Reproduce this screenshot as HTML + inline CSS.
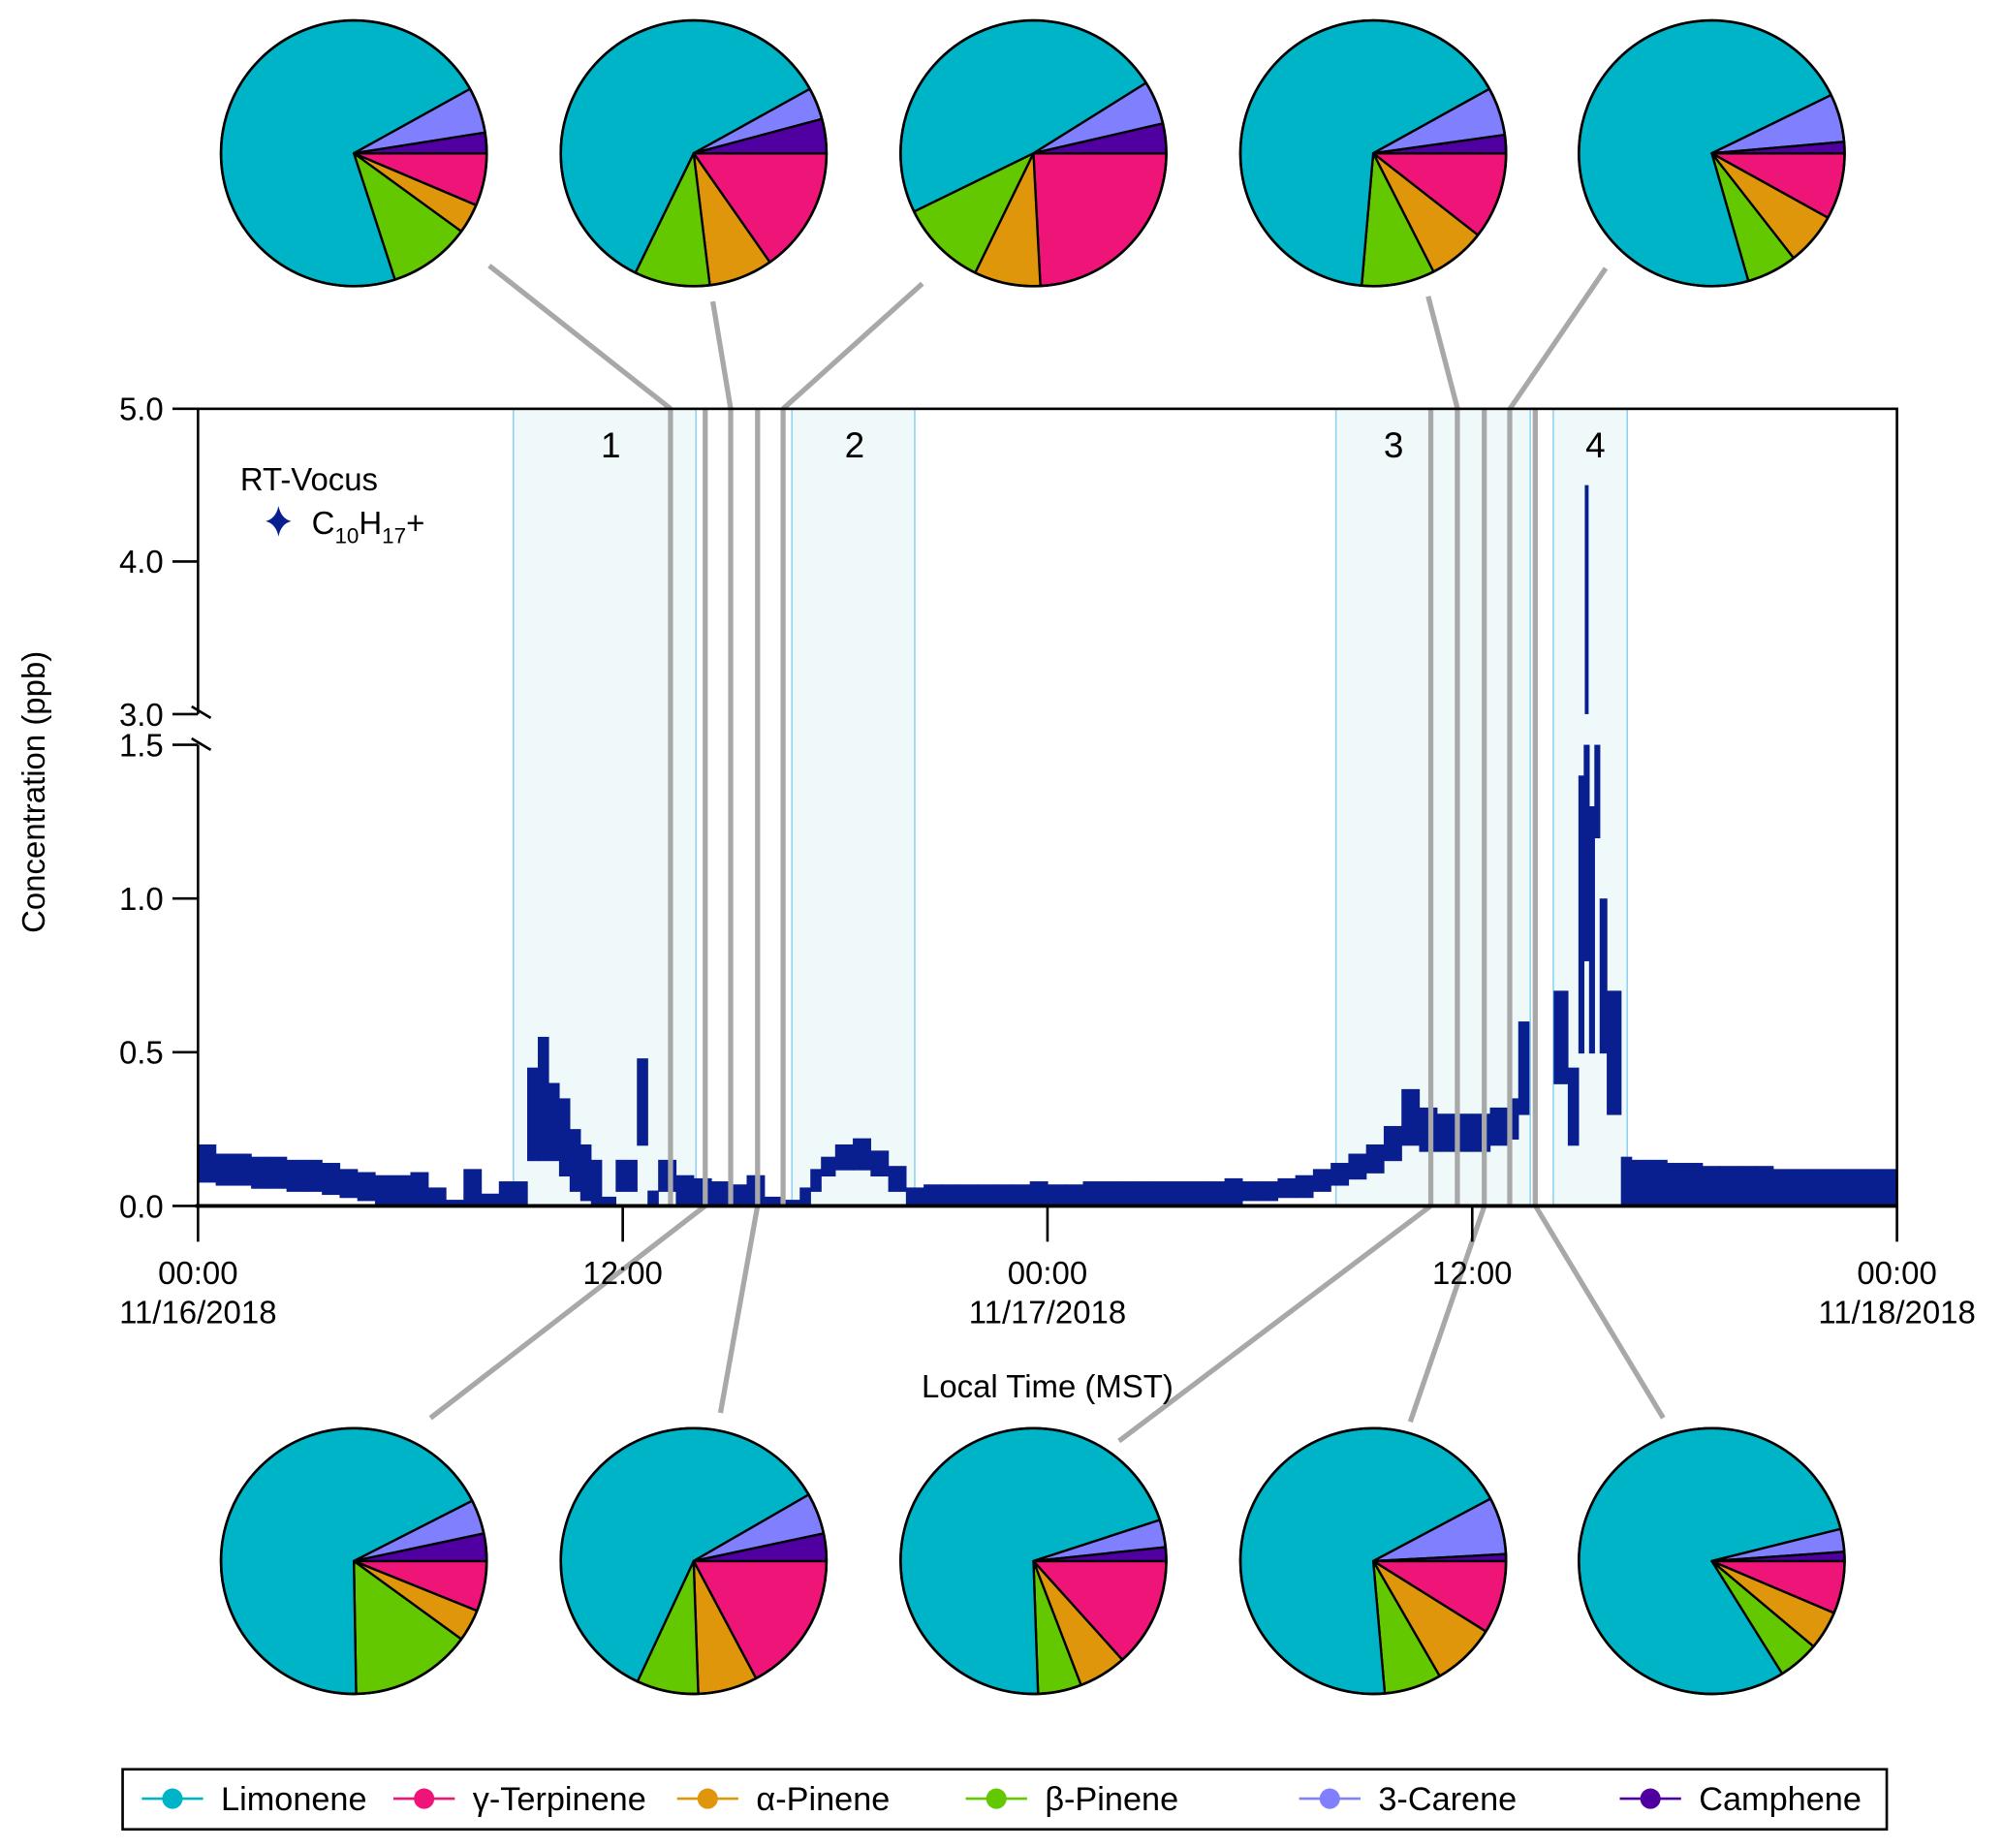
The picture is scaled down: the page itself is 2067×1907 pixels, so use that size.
<!DOCTYPE html>
<html><head><meta charset="utf-8"><style>
html,body{margin:0;padding:0;background:#fff}
svg{display:block;font-family:"Liberation Sans",sans-serif}
</style></head><body>
<svg id="chart" width="2067" height="1907" viewBox="0 0 1568 1446.6" xmlns="http://www.w3.org/2000/svg">
<g id="shade"></g>
<g id="scatter"></g>
<g id="gray"></g>
<g id="axes"></g>
<g id="pies"></g>
<g>
<text x="188" y="384" font-size="25">RT-Vocus</text>
<path d="M218 396 Q220 406 228 408 Q220 410 218 420 Q216 410 208 408 Q216 406 218 396Z" fill="#0a1f8f"/>
<text x="244" y="418" font-size="25">C<tspan font-size="17" dy="7">10</tspan><tspan dy="-7">H</tspan><tspan font-size="17" dy="7">17</tspan><tspan dy="-7">+</tspan></text>
</g>
<g>
<rect x="96" y="1385" width="1381" height="47" fill="none" stroke="#000" stroke-width="2"/>
<g id="legend"></g>
</g>
</svg>
<script>
const times=[0,0.5,1,1.5,2,2.5,3,3.5,4,4.5,5,5.5,6,6.5,7,7.5,8,8.5,9,9.3,9.6,9.9,10.2,10.5,10.8,11.1,11.4,11.8,12.1,12.4,12.7,13,13.5,14,14.5,15,15.5,16,16.5,17,17.3,17.6,18,18.5,19,19.5,20,20.5,21,21.5,22,22.5,23,23.5,24,24.5,25,25.5,26,26.5,27,27.5,28,28.5,29,29.5,30,30.5,31,31.5,32,32.5,33,33.5,34,34.5,35,35.5,36,36.5,37,37.3,38.3,38.7,39,39.15,39.3,39.45,39.6,39.8,40.2,40.5,41,41.5,42,42.5,43,43.5,44,44.5,45,45.5,46,46.5,47,47.5,47.9];
const lows=[0.08,0.07,0.07,0.06,0.06,0.05,0.05,0.04,0.03,0.02,0.01,0.01,0.01,0,0,0,0,0,0,0.15,0.15,0.15,0.1,0.05,0.02,0,0,0.05,0.05,0.2,0,0.05,0,0,0,0,0,0,0,0,0.05,0.1,0.12,0.12,0.1,0.05,0.01,0.01,0.01,0.01,0.01,0.01,0.01,0.01,0.01,0.01,0.01,0.01,0.01,0.01,0.01,0.01,0.01,0.01,0.01,0.02,0.02,0.03,0.03,0.05,0.07,0.09,0.11,0.15,0.2,0.18,0.18,0.18,0.18,0.2,0.22,0.3,0.4,0.2,0.5,0.8,0.5,1.2,0.5,0.3,0,0,0,0,0,0,0,0,0,0,0,0,0,0,0,0,0];
const highs=[0.2,0.17,0.17,0.16,0.16,0.15,0.15,0.14,0.12,0.11,0.1,0.1,0.11,0.06,0.02,0.12,0.04,0.08,0.08,0.45,0.55,0.4,0.35,0.25,0.2,0.15,0.03,0.15,0.15,0.48,0.05,0.15,0.1,0.09,0.08,0.07,0.1,0.03,0.02,0.06,0.12,0.16,0.2,0.22,0.18,0.13,0.06,0.07,0.07,0.07,0.07,0.07,0.07,0.08,0.07,0.07,0.08,0.08,0.08,0.08,0.08,0.08,0.08,0.08,0.09,0.08,0.08,0.09,0.1,0.12,0.14,0.17,0.2,0.26,0.38,0.32,0.3,0.3,0.3,0.32,0.35,0.6,0.7,0.45,1.4,4.5,1.3,1.5,1.0,0.7,0.16,0.15,0.15,0.14,0.14,0.13,0.13,0.13,0.13,0.12,0.12,0.12,0.12,0.12,0.12,0.12,0.12];
const regions=[[8.91,14.07],[16.78,20.25],[32.15,37.64],[38.29,40.38]];
const regionLabels=["1","2","3","4"];
const labelTimes=[11.66,18.55,33.78,39.48];
const markTimes=[13.35,14.33,15.05,15.81,16.53,34.83,35.58,36.34,37.06,37.78];
const yTicks=[0,0.5,1.0,1.5,3.0,4.0,5.0];
const xTicks=[0,12,24,36,48];
const xTickTime=["00:00","12:00","00:00","12:00","00:00"];
const xTickDate=["11/16/2018","","11/17/2018","","11/18/2018"];
const compounds=["γ-Terpinene","α-Pinene","β-Pinene","Limonene","3-Carene","Camphene"];
const colors=["#ee1478","#e0960a","#64c800","#00b4c8","#8080ff","#5000a0"];
const pieTop=[[23,13,36,259,20,9],[55,28,33,215,14,15],[87,29,38,174,19,13],[38,25,32,236,21,8],[29,23,22,260,21,5]];
const pieBottom=[[22,14,53,244,15,12],[62,26,27,215,18,12],[48,21,19,254,12,6],[32,28,25,247,25,3],[23,17,18,288,10,4]];
const legendOrder=["Limonene","γ-Terpinene","α-Pinene","β-Pinene","3-Carene","Camphene"];
const legendColors=["#00b4c8","#ee1478","#e0960a","#64c800","#8080ff","#5000a0"];

const NS="http://www.w3.org/2000/svg";
const X0=155,X1=1485,YB=944,YT=320;
function xs(t){return X0+t*(X1-X0)/48;}
function ys(v){if(v<=1.5)return YB-v*(944-583)/1.5;if(v>=3)return 559-(v-3)*(559-320)/2;return 583;}
function mk(tag,attrs,parent){const e=document.createElementNS(NS,tag);for(const k in attrs)e.setAttribute(k,attrs[k]);parent.appendChild(e);return e;}
const shade=document.getElementById('shade');
regions.forEach((r,i)=>{
 const e=mk('rect',{x:xs(r[0]),y:YT,width:xs(r[1])-xs(r[0]),height:YB-YT,fill:'#f0f9f9',stroke:'#8fd3f0','stroke-width':1.2},shade);
 
 
 const t=mk('text',{x:xs(labelTimes[i]),y:358,'font-size':28,'text-anchor':'middle'},shade);
 t.textContent=regionLabels[i];
 
 
});
const sc=document.getElementById('scatter');
times.forEach((t,i)=>{
 const lo=lows[i],hi=highs[i];
 let dt=(i<times.length-1?times[i+1]-t:0.4);
 if(dt>0.6)dt=0.3;
 const x=xs(t);
 let w=Math.max(3,xs(dt)-xs(0)+0.5);
 if(x+w>X1)w=X1-x;
 const y1=ys(hi),y2=ys(lo)+1;
 if(hi>1.5&&lo<3){
  const a=mk('rect',{x:x,y:583,width:w,height:y2-583,fill:'#0a1f8f'},sc);
  
  
  if(hi>=3){const b=mk('rect',{x:x+w/2-1.5,y:y1,width:3,height:559-y1,fill:'#0a1f8f'},sc);
  
  }
 } else {
  const a=mk('rect',{x:x,y:y1,width:w,height:Math.max(2,y2-y1),fill:'#0a1f8f'},sc);
  
  
 }
});
const gray=document.getElementById('gray');
markTimes.forEach(t=>{
 const l=mk('line',{x1:xs(t),x2:xs(t),y1:YT,y2:YB,stroke:'#a8a8a8','stroke-width':4},gray);
 
 
});
const conn=[[383,208,525,320],[558,236,572,320],[722,222,613,320],[1118,232,1141,320],[1257,210,1182,320],
 [337,1110,552,944],[564,1106,593,944],[876,1128,1120,944],[1104,1113,1162,944],[1302,1110,1202,944]];
conn.forEach(c=>{const l=mk('line',{x1:c[0],y1:c[1],x2:c[2],y2:c[3],stroke:'#a8a8a8','stroke-width':4},gray);
 
 });
const ax=document.getElementById('axes');
mk('rect',{x:X0,y:YT,width:X1-X0,height:YB-YT,fill:'none',stroke:'#000','stroke-width':2},ax);
mk('line',{x1:X0,y1:559,x2:X0,y2:583,stroke:'#fff','stroke-width':4},ax);
mk('line',{x1:X0-2,y1:YB,x2:X1,y2:YB,stroke:'#000','stroke-width':3},ax);
yTicks.forEach(v=>{
 const y=ys(v);
 mk('line',{x1:X0-20,x2:X0,y1:y,y2:y,stroke:'#000','stroke-width':2},ax);
 const t=mk('text',{x:X0-27,y:y+9,'font-size':25,'text-anchor':'end'},ax);t.textContent=v.toFixed(1);
 
 
});
mk('line',{x1:X0-5,y1:553,x2:X0+10,y2:562,stroke:'#000','stroke-width':2},ax);
mk('line',{x1:X0-5,y1:578,x2:X0+10,y2:587,stroke:'#000','stroke-width':2},ax);
xTicks.forEach((h,i)=>{
 const x=xs(h);
 mk('line',{x1:x,x2:x,y1:YB,y2:YB+28,stroke:'#000','stroke-width':2},ax);
 const t=mk('text',{x:x,y:1005,'font-size':25,'text-anchor':'middle'},ax);t.textContent=xTickTime[i];
 
 
 if(xTickDate[i]){const d=mk('text',{x:x,y:1036,'font-size':25,'text-anchor':'middle'},ax);d.textContent=xTickDate[i];
 
 }
});
const xt=mk('text',{x:820,y:1094,'font-size':25,'text-anchor':'middle'},ax);xt.textContent="Local Time (MST)";


const yt=mk('text',{x:0,y:0,'font-size':25,'text-anchor':'middle',transform:'translate(35,620) rotate(-90)'},ax);yt.textContent="Concentration (ppb)";


const pies=document.getElementById('pies');
const cxs=[277,543,809,1075,1340];const R=104;
function drawPie(cx,cy,vals,name){
 const g=mk('g',{},pies);
 
 
 const tot=vals.reduce((a,b)=>a+b,0);let a0=0;
 vals.forEach((v,i)=>{
  const a1=a0+v/tot*2*Math.PI;
  const x0=cx+R*Math.cos(a0),y0=cy+R*Math.sin(a0),x1=cx+R*Math.cos(a1),y1=cy+R*Math.sin(a1);
  const large=(a1-a0)>Math.PI?1:0;
  const p=mk('path',{d:`M${cx} ${cy}L${x0} ${y0}A${R} ${R} 0 ${large} 1 ${x1} ${y1}Z`,fill:colors[i],stroke:'#000','stroke-width':1.8,'stroke-linejoin':'round'},g);
  
  
  a0=a1;
 });
 mk('circle',{cx:cx,cy:cy,r:R,fill:'none',stroke:'#000','stroke-width':2},g);
}
pieTop.forEach((v,i)=>drawPie(cxs[i],120,v,'pie-top-'+(i+1)));
pieBottom.forEach((v,i)=>drawPie(cxs[i],1222,v,'pie-bottom-'+(i+1)));
const lg=document.getElementById('legend');
const lx=[173,370,592,818,1079,1330];
legendOrder.forEach((n,i)=>{
 const g=mk('g',{},lg);
 
 
 mk('line',{x1:lx[i]-62,x2:lx[i]-14,y1:1408,y2:1408,stroke:legendColors[i],'stroke-width':2},g);
 mk('circle',{cx:lx[i]-38,cy:1408,r:8,fill:legendColors[i]},g);
 const t=mk('text',{x:lx[i],y:1417,'font-size':26},g);t.textContent=n;
});
</script>
</body></html>
